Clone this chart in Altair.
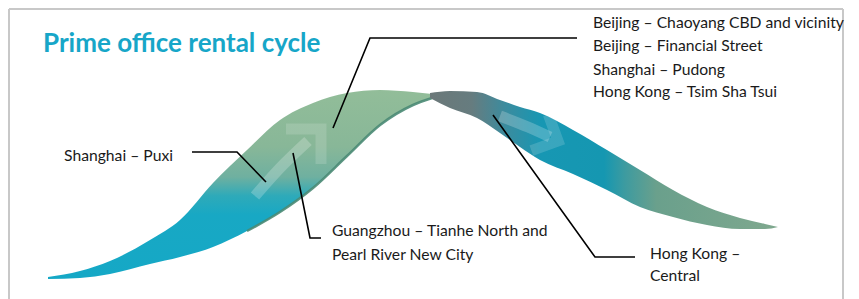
import altair as alt
import pandas as pd

# ---- ribbon geometry: x = cycle phase, values = rental level (higher = up) ----
rise_x      = [48, 80, 110, 150, 180, 213, 247, 280, 313, 347, 380, 413, 432]
rise_top    = [23, 29, 39, 60, 80, 117, 150, 180, 197, 207, 210, 208, 206]
rise_bottom = [21, 22, 26, 36, 43, 53, 69, 88, 112, 144, 175, 195, 202]

fall_x      = [430, 450, 477, 500, 520, 540, 573, 607, 640, 673, 707, 740, 765, 778]
fall_top    = [207, 209, 208, 200, 193, 187, 170, 150, 130, 110, 93, 82, 76, 73]
fall_bottom = [202, 192, 182, 167, 153, 140, 126, 110, 93, 83, 75, 71, 71, 73]

# faint direction arrows on the ribbon
arrow_id    = ["up", "up", "up", "down", "down", "down"]
arrow_x     = [255, 280, 308, 500, 528, 550]
arrow_lvl   = [104, 132, 159, 184, 173, 163]
head_x      = [321, 558]
head_lvl    = [171, 159]
head_angle  = [315, 25]
head_size   = [2450, 1600]

# leader lines
leader_id   = ["north", "north", "north", "puxi", "puxi", "puxi",
               "gz", "gz", "gz", "central", "central", "central"]
leader_x    = [333, 370, 577, 192, 237, 266, 293, 310, 321, 493, 595, 635]
leader_lvl  = [172, 262, 262, 148, 148, 118, 147, 62, 62, 185, 43, 43]

# text labels
label_text = ["Beijing \u2013 Chaoyang CBD and vicinity",
              "Beijing \u2013 Financial Street",
              "Shanghai \u2013 Pudong",
              "Hong Kong \u2013 Tsim Sha Tsui",
              "Shanghai \u2013 Puxi",
              "Guangzhou \u2013 Tianhe North and",
              "Pearl River New City",
              "Hong Kong \u2013",
              "Central"]
label_x   = [593, 593, 593, 593, 64, 332, 332, 650, 650]
label_lvl = [272, 249, 225, 203, 139, 64, 40, 41, 19]

title_text = ["Prime office rental cycle"]
title_x = [43]
title_lvl = [248]

# frame
frame_x  = [9, 9, 843]
frame_x2 = [9, 843, 843]
frame_y  = [1, 291, 1]
frame_y2 = [291, 291, 291]

XS = alt.Scale(domain=[8, 851], nice=False, zero=False)
YS = alt.Scale(domain=[1, 292], nice=False, zero=False)

rise = pd.DataFrame({"x": rise_x, "top": rise_top, "bottom": rise_bottom})
fall = pd.DataFrame({"x": fall_x, "top": fall_top, "bottom": fall_bottom})

rise_grad = alt.Gradient(
    gradient="linear", x1=0, x2=0, y1=0, y2=1,
    stops=[alt.GradientStop(color="#92bd99", offset=0),
           alt.GradientStop(color="#88b798", offset=0.30),
           alt.GradientStop(color="#6fb0a0", offset=0.46),
           alt.GradientStop(color="#2eaab9", offset=0.56),
           alt.GradientStop(color="#18a8c4", offset=0.66),
           alt.GradientStop(color="#15a8c6", offset=1)])

fall_grad = alt.Gradient(
    gradient="linear", x1=0, x2=1, y1=0, y2=0,
    stops=[alt.GradientStop(color="#6b7879", offset=0),
           alt.GradientStop(color="#667c7f", offset=0.12),
           alt.GradientStop(color="#3a8c9f", offset=0.22),
           alt.GradientStop(color="#1797b3", offset=0.32),
           alt.GradientStop(color="#1597b1", offset=0.50),
           alt.GradientStop(color="#3d9ba0", offset=0.56),
           alt.GradientStop(color="#6aa08c", offset=0.65),
           alt.GradientStop(color="#7fa88e", offset=1)])

rise_area = alt.Chart(rise).mark_area(fill=rise_grad, interpolate="monotone").encode(
    x=alt.X("x:Q", scale=XS, axis=None),
    y=alt.Y("top:Q", scale=YS, axis=None),
    y2="bottom:Q")

shadow = alt.Chart(rise[rise["x"] >= 247]).mark_line(
    color="#4a8974", strokeWidth=2.5, interpolate="monotone", opacity=0.9).encode(
    x=alt.X("x:Q", scale=XS, axis=None),
    y=alt.Y("bottom:Q", scale=YS, axis=None))

fall_area = alt.Chart(fall).mark_area(fill=fall_grad, interpolate="monotone").encode(
    x=alt.X("x:Q", scale=XS, axis=None),
    y=alt.Y("top:Q", scale=YS, axis=None),
    y2="bottom:Q")

arrows = pd.DataFrame({"id": arrow_id, "x": arrow_x, "lvl": arrow_lvl,
                       "o": list(range(len(arrow_x)))})
shafts = alt.Chart(arrows).mark_line(
    color="white", opacity=0.22, strokeWidth=11, interpolate="monotone").encode(
    x=alt.X("x:Q", scale=XS, axis=None),
    y=alt.Y("lvl:Q", scale=YS, axis=None),
    detail="id:N", order="o:Q")

heads = pd.DataFrame({"x": head_x, "lvl": head_lvl, "a": head_angle, "s": head_size})
head_marks = alt.Chart(heads).mark_point(
    shape="M-1,-1L0,0L-1,1", filled=False, stroke="white", strokeOpacity=0.22,
    strokeWidth=11, strokeJoin="miter").encode(
    x=alt.X("x:Q", scale=XS, axis=None),
    y=alt.Y("lvl:Q", scale=YS, axis=None),
    angle=alt.Angle("a:Q", scale=None),
    size=alt.Size("s:Q", scale=None))

leaders = pd.DataFrame({"id": leader_id, "x": leader_x, "lvl": leader_lvl,
                        "o": list(range(len(leader_x)))})
leader_lines = alt.Chart(leaders).mark_line(color="#000000", strokeWidth=1.6).encode(
    x=alt.X("x:Q", scale=XS, axis=None),
    y=alt.Y("lvl:Q", scale=YS, axis=None),
    detail="id:N", order="o:Q")

labels = pd.DataFrame({"t": label_text, "x": label_x, "lvl": label_lvl})
label_marks = alt.Chart(labels).mark_text(
    align="left", baseline="alphabetic", font="Lato", fontSize=15.7, color="#1a1a1a").encode(
    x=alt.X("x:Q", scale=XS, axis=None),
    y=alt.Y("lvl:Q", scale=YS, axis=None),
    text="t:N")

titles = pd.DataFrame({"t": title_text, "x": title_x, "lvl": title_lvl})
title_mark = alt.Chart(titles).mark_text(
    align="left", baseline="alphabetic", font="Lato", fontSize=26, fontWeight="bold",
    color="#17a6c8").encode(
    x=alt.X("x:Q", scale=XS, axis=None),
    y=alt.Y("lvl:Q", scale=YS, axis=None),
    text="t:N")

frame = pd.DataFrame({"x": frame_x, "x2": frame_x2, "y": frame_y, "y2": frame_y2})
frame_marks = alt.Chart(frame).mark_rule(color="#c8c8c8", strokeWidth=2).encode(
    x=alt.X("x:Q", scale=XS, axis=None), x2="x2:Q",
    y=alt.Y("y:Q", scale=YS, axis=None), y2="y2:Q")

chart = alt.layer(
    frame_marks, rise_area, shadow, fall_area, shafts, head_marks,
    leader_lines, label_marks, title_mark
).properties(width=843, height=291, padding=0, autosize="none"
).configure_view(stroke=None)

chart.save("out.html", embed_options={"renderer": "svg", "actions": False})
